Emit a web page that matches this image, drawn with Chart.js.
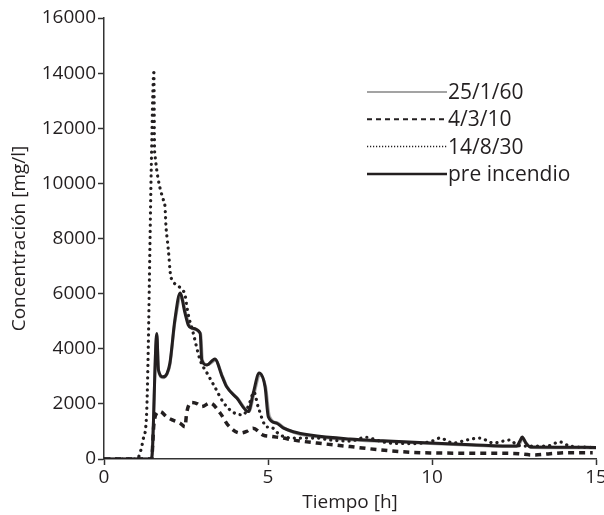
<!DOCTYPE html>
<html>
<head>
<meta charset="utf-8">
<script src="https://cdn.jsdelivr.net/npm/chart.js@4"></script>
<style>
  html, body { margin: 0; padding: 0; background: #fff; }
  #wrap { width: 604px; height: 515px; }
</style>
</head>
<body>
<div id="wrap"><canvas id="chart" width="604" height="515"></canvas></div>
<script>
// Concentración vs tiempo para cada escenario

const grayTime = [0, 1.45, 1.61, 1.66, 1.8, 1.92, 2.01, 2.16, 2.35, 2.5, 2.6, 2.7, 2.95, 3.0, 3.15, 3.4, 3.62, 3.76, 4.07, 4.42, 4.57, 4.75, 4.93, 5.04, 5.3, 5.5, 5.8, 6.3, 7.5, 8.5, 9.94, 11.2, 12.6, 12.7, 12.77, 12.87, 13.02, 14.0, 15];
const grayConc = [0, 0, 4500, 3200, 2950, 3080, 3420, 4950, 5900, 5250, 4850, 4720, 4520, 3580, 3420, 3580, 2980, 2600, 2200, 1720, 2350, 3050, 2600, 1560, 1300, 1120, 960, 830, 700, 640, 560, 500, 450, 620, 760, 580, 420, 410, 400];

const dashTime = [0, 1.45, 1.52, 1.6, 1.71, 1.91, 2.1, 2.32, 2.47, 2.52, 2.67, 2.85, 2.98, 3.23, 3.54, 3.78, 4.15, 4.35, 4.54, 4.85, 5.1, 5.46, 5.76, 6.49, 7.5, 8.7, 9.94, 11.5, 12.5, 13.1, 13.6, 14.1, 14.9];
const dashConc = [0, 0, 1250, 1650, 1720, 1530, 1410, 1300, 1170, 1670, 2050, 2000, 1900, 2030, 1670, 1230, 940, 1000, 1120, 870, 820, 760, 690, 580, 450, 300, 220, 210, 200, 145, 190, 230, 230];

const dotTime = [0, 1.0, 1.1, 1.19, 1.3, 1.35, 1.4, 1.44, 1.52, 1.54, 1.555, 1.607, 1.707, 1.81, 1.86, 1.89, 1.93, 1.98, 2.01, 2.04, 2.11, 2.34, 2.47, 2.56, 2.72, 2.93, 3.14, 3.38, 3.63, 3.93, 4.24, 4.45, 4.57, 4.7, 4.97, 5.06, 5.37, 5.76, 6.49, 6.9, 7.5, 8.0, 8.3, 8.7, 9.5, 10.0, 10.24, 10.65, 11.1, 11.46, 11.87, 12.38, 12.6, 12.9, 13.5, 13.9, 14.2, 14.9];
const dotConc = [0, 0, 220, 690, 1670, 4060, 7700, 10500, 14020, 11330, 11030, 10490, 9830, 9400, 9150, 8430, 7950, 7340, 6860, 6610, 6430, 6190, 5950, 5290, 4570, 3590, 3120, 2610, 2070, 1700, 1600, 2070, 2430, 1890, 1160, 1170, 870, 760, 760, 690, 650, 790, 690, 580, 560, 650, 760, 580, 700, 760, 580, 690, 500, 470, 470, 620, 470, 420];

const preTime = [0, 1.45, 1.61, 1.66, 1.8, 1.92, 2.01, 2.16, 2.32, 2.47, 2.57, 2.67, 2.93, 2.98, 3.13, 3.38, 3.6, 3.74, 4.05, 4.4, 4.55, 4.73, 4.91, 5.01, 5.26, 5.46, 5.77, 6.28, 7.5, 8.5, 9.94, 11.2, 12.58, 12.68, 12.75, 12.85, 13.0, 14.0, 15];
const preConc = [0, 0, 4550, 3230, 2980, 3100, 3480, 5040, 6020, 5290, 4860, 4750, 4570, 3590, 3410, 3630, 3000, 2620, 2210, 1720, 2390, 3120, 2620, 1530, 1300, 1130, 990, 870, 725, 660, 580, 520, 470, 650, 800, 600, 435, 430, 420];

const seriesNames = ['25/1/60', '4/3/10', '14/8/30', 'pre incendio'];
const xTicks = [0, 5, 10, 15];
const yMax = 16000;
const yStep = 2000;

const FONT = '"Open Sans", "DejaVu Sans", sans-serif';
const INK = '#231f20';

function pts(t, c) {
  return t.map((x, i) => ({ x: x, y: c[i] }));
}

// leyenda con muestras de línea a la izquierda del texto
const lineLegend = {
  id: 'lineLegend',
  afterDraw(chart, args, opts) {
    const ctx = chart.ctx;
    ctx.save();
    ctx.font = opts.fontSize + 'px ' + FONT;
    ctx.textBaseline = 'middle';
    ctx.fillStyle = INK;
    chart.data.datasets.forEach((ds, i) => {
      const y = opts.top + i * opts.gap;
      ctx.beginPath();
      ctx.strokeStyle = ds.borderColor;
      ctx.lineWidth = opts.widths[i];
      ctx.setLineDash(opts.dashes[i]);
      ctx.lineCap = 'butt';
      ctx.moveTo(opts.x0, y);
      ctx.lineTo(opts.x1, y);
      ctx.stroke();
      ctx.fillText(ds.label, opts.x1 + 1, y + 1);
    });
    ctx.restore();
  }
};

new Chart(document.getElementById('chart'), {
  type: 'line',
  data: {
    datasets: [
      {
        label: seriesNames[0],
        data: pts(grayTime, grayConc),
        borderColor: '#a3a3a3',
        borderWidth: 3,
        order: 3
      },
      {
        label: seriesNames[1],
        data: pts(dashTime, dashConc),
        borderColor: INK,
        borderWidth: 3.5,
        borderDash: [6, 5],
        order: 2
      },
      {
        label: seriesNames[2],
        data: pts(dotTime, dotConc),
        borderColor: INK,
        borderWidth: 3.2,
        borderDash: [0.1, 6],
        borderCapStyle: 'round',
        order: 1
      },
      {
        label: seriesNames[3],
        data: pts(preTime, preConc),
        borderColor: INK,
        borderWidth: 3,
        order: 0
      }
    ]
  },
  options: {
    responsive: false,
    animation: false,
    maintainAspectRatio: false,
    layout: { padding: { top: 18, right: 8, left: 0, bottom: 0 } },
    elements: {
      point: { radius: 0 },
      line: { cubicInterpolationMode: 'monotone', borderJoinStyle: 'round' }
    },
    plugins: {
      legend: { display: false },
      tooltip: { enabled: false },
      lineLegend: {
        x0: 367, x1: 447, top: 92, gap: 27.3, fontSize: 21,
        widths: [2, 2, 1.5, 2.5],
        dashes: [[], [5, 4], [1.2, 1.8], []]
      }
    },
    scales: {
      x: {
        type: 'linear',
        min: 0,
        max: 15,
        afterBuildTicks: (s) => { s.ticks = xTicks.map(v => ({ value: v })); },
        afterFit: (s) => { s.height = 56; s.paddingLeft = 0; s.paddingRight = 0; },
        grid: { drawOnChartArea: false, drawTicks: true, tickLength: 6, tickColor: '#333', tickWidth: 1.5 },
        border: { color: '#333', width: 1.5 },
        ticks: { color: INK, font: { family: FONT, size: 19 }, padding: 1, maxRotation: 0 },
        title: { display: true, text: 'Tiempo [h]', color: INK, font: { family: FONT, size: 19 }, padding: { top: 0, bottom: 1 } }
      },
      y: {
        min: 0,
        max: yMax,
        ticks: {
          stepSize: yStep, color: INK, font: { family: FONT, size: 19 }, padding: 2,
          callback: (v) => String(v)
        },
        afterFit: (s) => { s.width = 104; s.paddingTop = 0; s.paddingBottom = 0; },
        grid: { drawOnChartArea: false, drawTicks: true, tickLength: 6, tickColor: '#333', tickWidth: 1.5 },
        border: { color: '#333', width: 1.5 },
        title: { display: true, text: 'Concentración [mg/l]', color: INK, font: { family: FONT, size: 19 }, padding: { top: 8, bottom: 0 } }
      }
    }
  },
  plugins: [lineLegend]
});
</script>
</body>
</html>
